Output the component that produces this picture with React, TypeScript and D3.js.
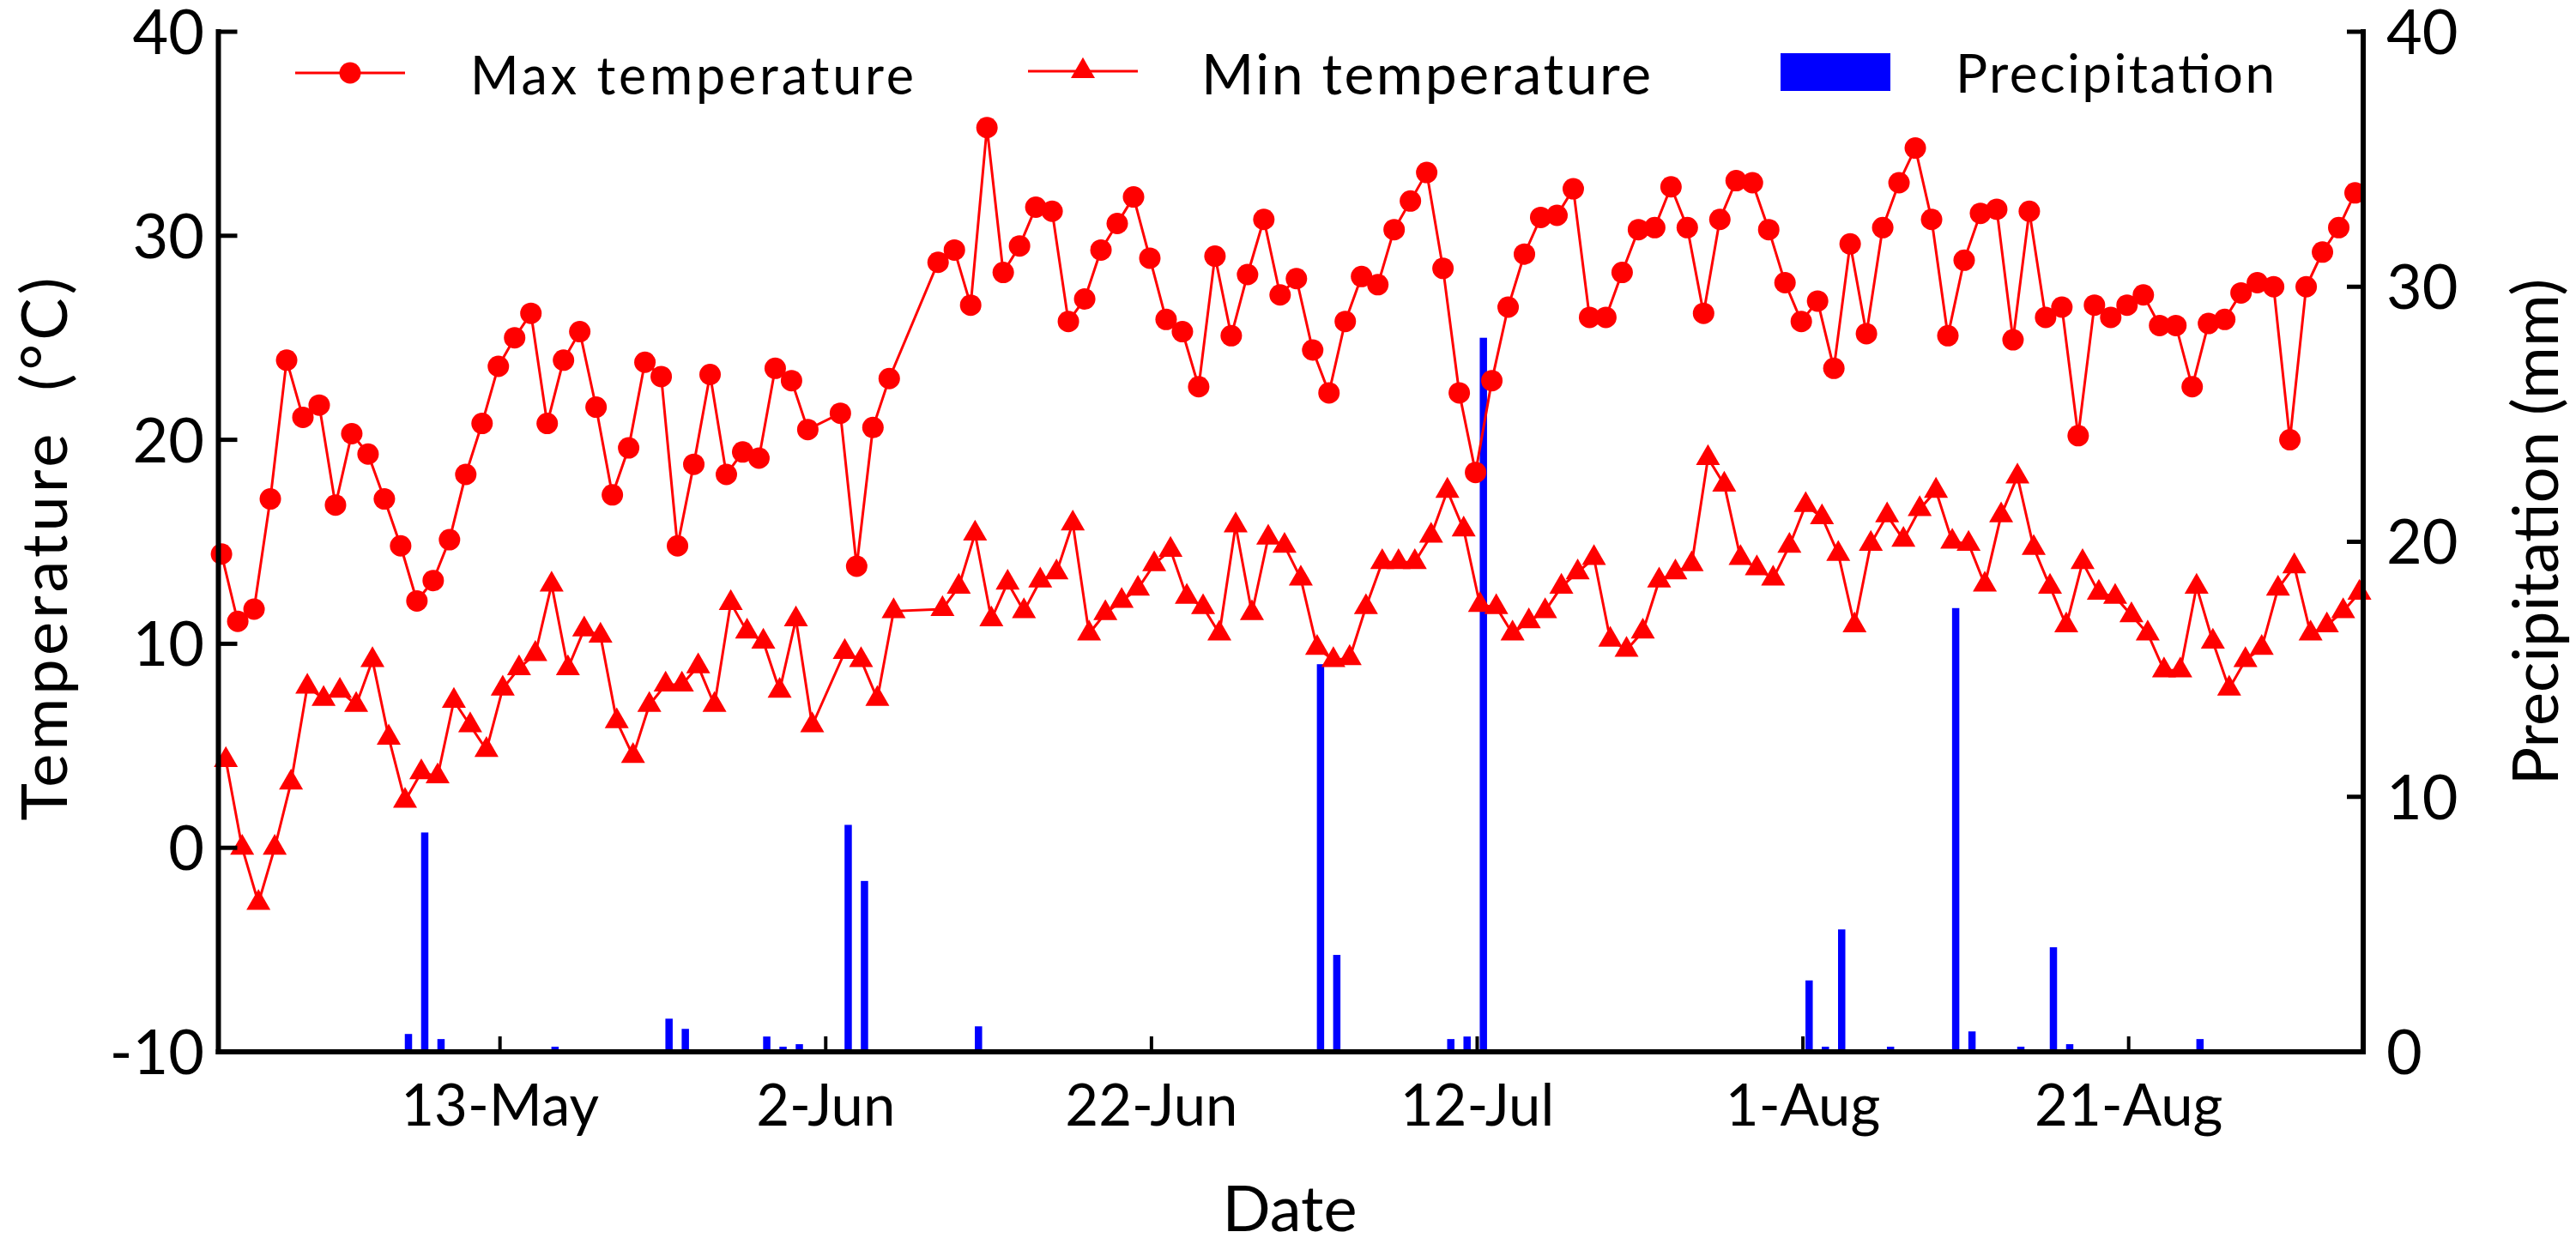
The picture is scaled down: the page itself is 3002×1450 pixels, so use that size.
import * as React from 'react';
import * as d3 from 'd3';

const useMemo = React.useMemo;

// first day of the daily record; every series below is one value per day from here
const firstDay = '2020-04-26';

// daily maximum temperature (°C), null = no record that day
const maxTemp: (number | null)[] = [
  14.4, 11.1, 11.7, 17.1, 23.9, 21.1, 21.7, 16.8, 20.3, 19.3,
  17.1, 14.8, 12.1, 13.1, 15.1, 18.3, 20.8, 23.6, 25.0, 26.2,
  20.8, 23.9, 25.3, 21.6, 17.3, 19.6, 23.8, 23.1, 14.8, 18.8,
  23.2, 18.3, 19.4, 19.1, 23.5, 22.9, 20.5, null, 21.3, 13.8,
  20.6, 23.0, null, null, 28.7, 29.3, 26.6, 35.3, 28.2, 29.5,
  31.4, 31.2, 25.8, 26.9, 29.3, 30.6, 31.9, 28.9, 25.9, 25.3,
  22.6, 29.0, 25.1, 28.1, 30.8, 27.1, 27.9, 24.4, 22.3, 25.8,
  28.0, 27.6, 30.3, 31.7, 33.1, 28.4, 22.3, 18.4, 22.9, 26.5,
  29.1, 30.9, 31.0, 32.3, 26.0, 26.0, 28.2, 30.3, 30.4, 32.4,
  30.4, 26.2, 30.8, 32.7, 32.6, 30.3, 27.7, 25.8, 26.8, 23.5,
  29.6, 25.2, 30.4, 32.6, 34.3, 30.8, 25.1, 28.8, 31.1, 31.3,
  24.9, 31.2, 26.0, 26.5, 20.2, 26.6, 26.0, 26.6, 27.1, 25.6,
  25.6, 22.6, 25.7, 25.9, 27.2, 27.7, 27.5, 20.0, 27.5, 29.2,
  30.4, 32.1,
];

// daily minimum temperature (°C)
const minTemp: (number | null)[] = [
  4.3, 0.0, -2.7, 0.0, 3.2, 7.9, 7.3, 7.7, 7.0, 9.2,
  5.4, 2.3, 3.7, 3.5, 7.2, 6.0, 4.8, 7.8, 8.8, 9.5,
  12.9, 8.8, 10.7, 10.4, 6.2, 4.5, 7.0, 8.0, 8.0, 8.9,
  7.0, 12.0, 10.6, 10.1, 7.7, 11.2, 6.0, null, 9.6, 9.2,
  7.3, 11.6, null, null, 11.7, 12.8, 15.4, 11.2, 13.0, 11.6,
  13.1, 13.5, 15.9, 10.5, 11.5, 12.1, 12.7, 13.9, 14.6, 12.3,
  11.8, 10.5, 15.8, 11.5, 15.2, 14.8, 13.2, 9.8, 9.2, 9.3,
  11.8, 14.0, 14.0, 14.0, 15.3, 17.5, 15.6, 11.9, 11.8, 10.5,
  11.1, 11.6, 12.8, 13.5, 14.2, 10.2, 9.7, 10.6, 13.1, 13.5,
  13.9, 19.1, 17.8, 14.2, 13.7, 13.2, 14.8, 16.8, 16.2, 14.4,
  10.9, 14.9, 16.3, 15.1, 16.6, 17.5, 15.0, 14.9, 12.9, 16.3,
  18.2, 14.7, 12.8, 10.9, 14.0, 12.5, 12.3, 11.4, 10.5, 8.7,
  8.7, 12.8, 10.1, 7.8, 9.2, 9.8, 12.7, 13.8, 10.5, 10.9,
  11.6, 12.5,
];

// rainy days and amount (mm)
const rainDays = [
  '2020-05-07', '2020-05-08', '2020-05-09', '2020-05-16', '2020-05-23', '2020-05-24',
  '2020-05-29', '2020-05-30', '2020-05-31', '2020-06-03', '2020-06-04', '2020-06-11',
  '2020-07-02', '2020-07-03', '2020-07-10', '2020-07-11', '2020-07-12', '2020-08-01',
  '2020-08-02', '2020-08-03', '2020-08-06', '2020-08-10', '2020-08-11', '2020-08-14',
  '2020-08-16', '2020-08-17', '2020-08-25',
];
const rainMm = [
  0.7, 8.6, 0.5, 0.2, 1.3, 0.9,
  0.6, 0.2, 0.3, 8.9, 6.7, 1.0,
  15.2, 3.8, 0.5, 0.6, 28.0, 2.8,
  0.2, 4.8, 0.2, 17.4, 0.8, 0.2,
  4.1, 0.3, 0.5,
];

const dateTicks = ['13-May', '2-Jun', '22-Jun', '12-Jul', '1-Aug', '21-Aug'];
const tempTicks = [-10, 0, 10, 20, 30, 40];
const rainTicks = [0, 10, 20, 30, 40];

const RED = '#ff0000';
const BLUE = '#0000ff';
const FONT = "Lato, 'Open Sans', sans-serif";
const DAY = 864e5;

type Pt = { date: Date; v: number };

export default function App() {
  const W = 3002;
  const H = 1450;
  const left = 254.5;
  const right = 2754;
  const top = 37;
  const bottom = 1226;

  const parse = d3.timeParse('%Y-%m-%d');
  const start = parse(firstDay) as Date;
  const days = maxTemp.map((_, i) => d3.timeDay.offset(start, i));
  const end = days[days.length - 1];

  const x = useMemo(
    () =>
      d3
        .scaleTime()
        .domain([new Date(+start - 0.29 * DAY), new Date(+end + 0.4 * DAY)])
        .range([left, right]),
    []
  );
  const yT = d3.scaleLinear().domain([-10, 40]).range([bottom, top]);
  const yR = d3.scaleLinear().domain([0, 40]).range([bottom, top]);

  // the three series sit slightly apart inside each day
  const xAt = (d: Date, shift: number) => x(new Date(+d + shift * DAY));

  const toPts = (vals: (number | null)[]): Pt[] =>
    vals
      .map((v, i) => ({ date: days[i], v }))
      .filter((p): p is Pt => p.v !== null);
  const maxPts = toPts(maxTemp);
  const minPts = toPts(minTemp);

  const maxLine = d3
    .line<Pt>()
    .x((p) => xAt(p.date, -0.1))
    .y((p) => yT(p.v))(maxPts) as string;
  const minLine = d3
    .line<Pt>()
    .x((p) => xAt(p.date, 0.17))
    .y((p) => yT(p.v))(minPts) as string;

  const tri = d3.symbol(d3.symbolTriangle, 340)() as string;
  const parseTick = d3.timeParse('%d-%b-%Y');
  const barW = 8.5;

  return (
    <svg
      width={W}
      height={H}
      style={{ position: 'absolute', left: 0, top: 0, background: '#fff' }}
      fontFamily={FONT}
    >
      <rect width={W} height={H} fill="#fff" />

      {/* precipitation bars */}
      <g fill={BLUE}>
        {rainDays.map((s, i) => {
          const cx = xAt(parse(s) as Date, 0.38);
          return (
            <rect
              key={s}
              x={cx - barW / 2}
              y={yR(rainMm[i])}
              width={barW}
              height={yR(0) - yR(rainMm[i])}
            />
          );
        })}
      </g>

      {/* temperature lines */}
      <path d={maxLine} fill="none" stroke={RED} strokeWidth={3} />
      <path d={minLine} fill="none" stroke={RED} strokeWidth={3} />
      <g fill={RED}>
        {maxPts.map((p, i) => (
          <circle key={'a' + i} cx={xAt(p.date, -0.1)} cy={yT(p.v)} r={12.5} />
        ))}
        {minPts.map((p, i) => (
          <path
            key={'b' + i}
            d={tri}
            transform={`translate(${xAt(p.date, 0.17)},${yT(p.v)})`}
          />
        ))}
      </g>

      {/* axes */}
      <g stroke="#000" fill="none">
        <line x1={left} x2={left} y1={top - 3} y2={bottom + 3} strokeWidth={6} />
        <line x1={right} x2={right} y1={top - 3} y2={bottom + 3} strokeWidth={6} />
        <line x1={left - 3} x2={right + 3} y1={bottom} y2={bottom} strokeWidth={6} />
        {tempTicks.map((t) => (
          <line key={t} x1={left} x2={left + 22} y1={yT(t)} y2={yT(t)} strokeWidth={5} />
        ))}
        {rainTicks.map((t) => (
          <line key={t} x1={right} x2={right - 19} y1={yR(t)} y2={yR(t)} strokeWidth={5} />
        ))}
        {dateTicks.map((l) => {
          const tx = x(parseTick(l + '-2020') as Date);
          return <line key={l} x1={tx} x2={tx} y1={bottom} y2={bottom - 18} strokeWidth={4} />;
        })}
      </g>

      <g fontSize={72} fill="#000">
        {tempTicks.map((t) => (
          <text key={t} x={238} y={yT(t)} dy="0.36em" textAnchor="end">
            {t}
          </text>
        ))}
        {rainTicks.map((t) => (
          <text key={t} x={2781} y={yR(t)} dy="0.36em" textAnchor="start">
            {t}
          </text>
        ))}
      </g>
      <g fontSize={67} fill="#000" textAnchor="middle">
        {dateTicks.map((l) => (
          <text key={l} x={x(parseTick(l + '-2020') as Date)} y={1312}>
            {l}
          </text>
        ))}
      </g>

      {/* axis titles */}
      <text x={1503} y={1435} fontSize={74} textAnchor="middle">
        Date
      </text>
      <text
        transform="translate(78,640) rotate(-90)"
        fontSize={74}
        textAnchor="middle"
        style={{ whiteSpace: 'pre' }}
        textLength={633}
      >
        {'Temperature  (°C)'}
      </text>
      <text transform="translate(2981,620) rotate(-90)" fontSize={74} textAnchor="middle">
        Precipitation (mm)
      </text>

      {/* legend */}
      <g>
        <line x1={344} x2={472} y1={85} y2={85} stroke={RED} strokeWidth={3} />
        <circle cx={408} cy={85} r={12.5} fill={RED} />
        <text x={548} y={110} fontSize={61} textLength={517}>
          Max temperature
        </text>
        <line x1={1198} x2={1326} y1={83} y2={83} stroke={RED} strokeWidth={3} />
        <path d={tri} transform="translate(1262,83)" fill={RED} />
        <text x={1400} y={110} fontSize={66} textLength={524}>
          Min temperature
        </text>
        <rect x={2075} y={62} width={128} height={44} fill={BLUE} />
        <text x={2279} y={108} fontSize={62} textLength={372}>
          Precipitation
        </text>
      </g>
    </svg>
  );
}
